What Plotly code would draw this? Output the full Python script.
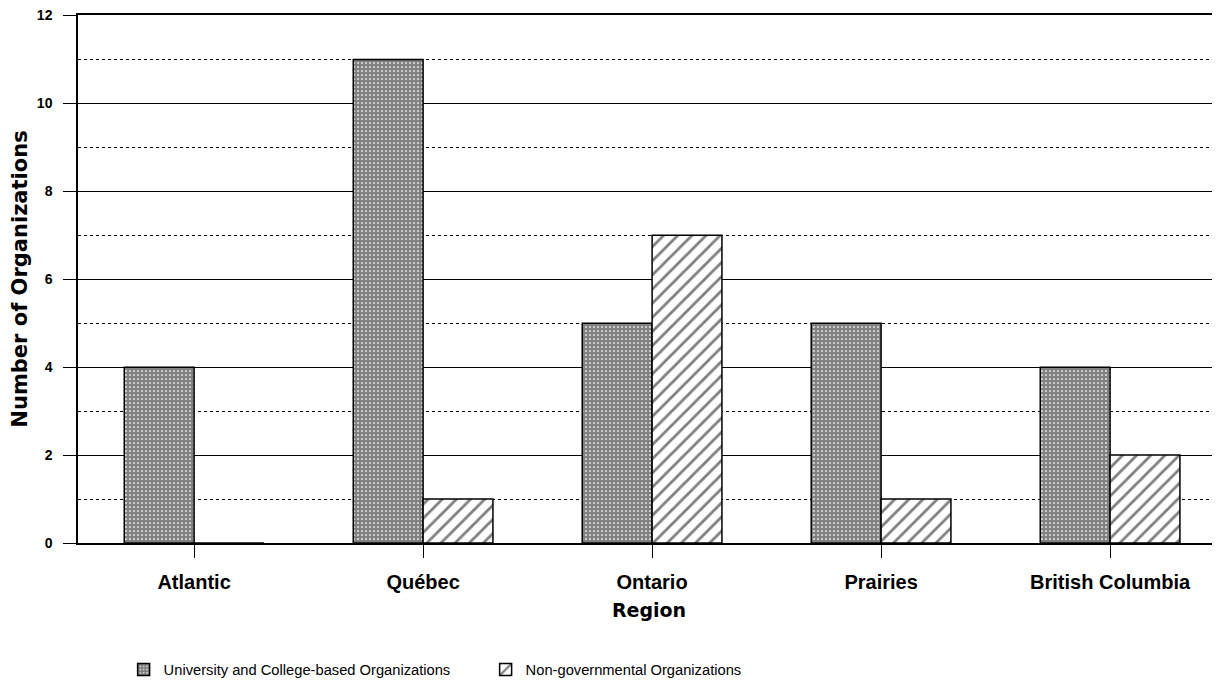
import plotly.graph_objects as go

regions = ["Atlantic", "Québec", "Ontario", "Prairies", "British Columbia"]
university = [4, 11, 5, 5, 4]
ngo = [0, 1, 7, 1, 2]
series_names = ["University and College-based Organizations", "Non-governmental Organizations"]
y_ticks = [0, 2, 4, 6, 8, 10, 12]

fig = go.Figure()
fig.add_trace(go.Bar(
    x=regions, y=university, name=series_names[0],
    marker=dict(color="white", line=dict(color="black", width=1.5),
                pattern=dict(shape=".", fgcolor="#000000", bgcolor="#ffffff", size=4, solidity=0.8)),
))
fig.add_trace(go.Bar(
    x=regions, y=ngo, name=series_names[1],
    marker=dict(color="white", line=dict(color="black", width=1.5),
                pattern=dict(shape="/", fgcolor="black", bgcolor="#ffffff", size=10, solidity=0.28)),
))

# The page has an 8px body margin, so the figure is sized to fit the window.
fig.update_layout(
    width=1212, height=681,
    margin=dict(l=70, r=0, t=7, b=146),
    paper_bgcolor="white", plot_bgcolor="white",
    barmode="group", bargap=0.39, bargroupgap=0,
    font=dict(family="Liberation Sans, Arial", color="black"),
    showlegend=True,
    legend=dict(orientation="h", xref="container", yref="container",
                x=0.0954, xanchor="left", y=1 - 662 / 681, yanchor="middle",
                font=dict(size=14.7, family="Liberation Sans, Arial"),
                entrywidth=317, entrywidthmode="pixels",
                traceorder="normal"),
)

fig.update_xaxes(
    range=[-0.507, 4.48], automargin=False,
    showline=True, linecolor="black", linewidth=1.5, mirror=True,
    ticks="outside", ticklen=13, tickcolor="black", tickwidth=1,
    ticklabelstandoff=7,
    tickfont=dict(size=20, family="Liberation Sans, Arial", weight="bold"),
    showgrid=False, zeroline=False,
    title=dict(text="Region", font=dict(size=19, family="DejaVu Sans", weight="bold"), standoff=12),
)
fig.update_yaxes(
    range=[0, 12.01], tickvals=y_ticks, automargin=False,
    showline=True, linecolor="black", linewidth=1.5,
    ticks="outside", ticklen=13, tickcolor="black", tickwidth=1,
    ticklabelstandoff=8, ticklabeloverflow="allow",
    tickfont=dict(size=14, family="Liberation Sans, Arial", weight="bold"),
    showgrid=True, gridcolor="black", gridwidth=1,
    zeroline=False,
    minor=dict(dtick=1, showgrid=True, gridcolor="black", griddash="dot", gridwidth=1),
    title=dict(text="Number of Organizations", font=dict(size=21, family="DejaVu Sans", weight="bold"), standoff=14),
)

fig.write_html("out.html")
